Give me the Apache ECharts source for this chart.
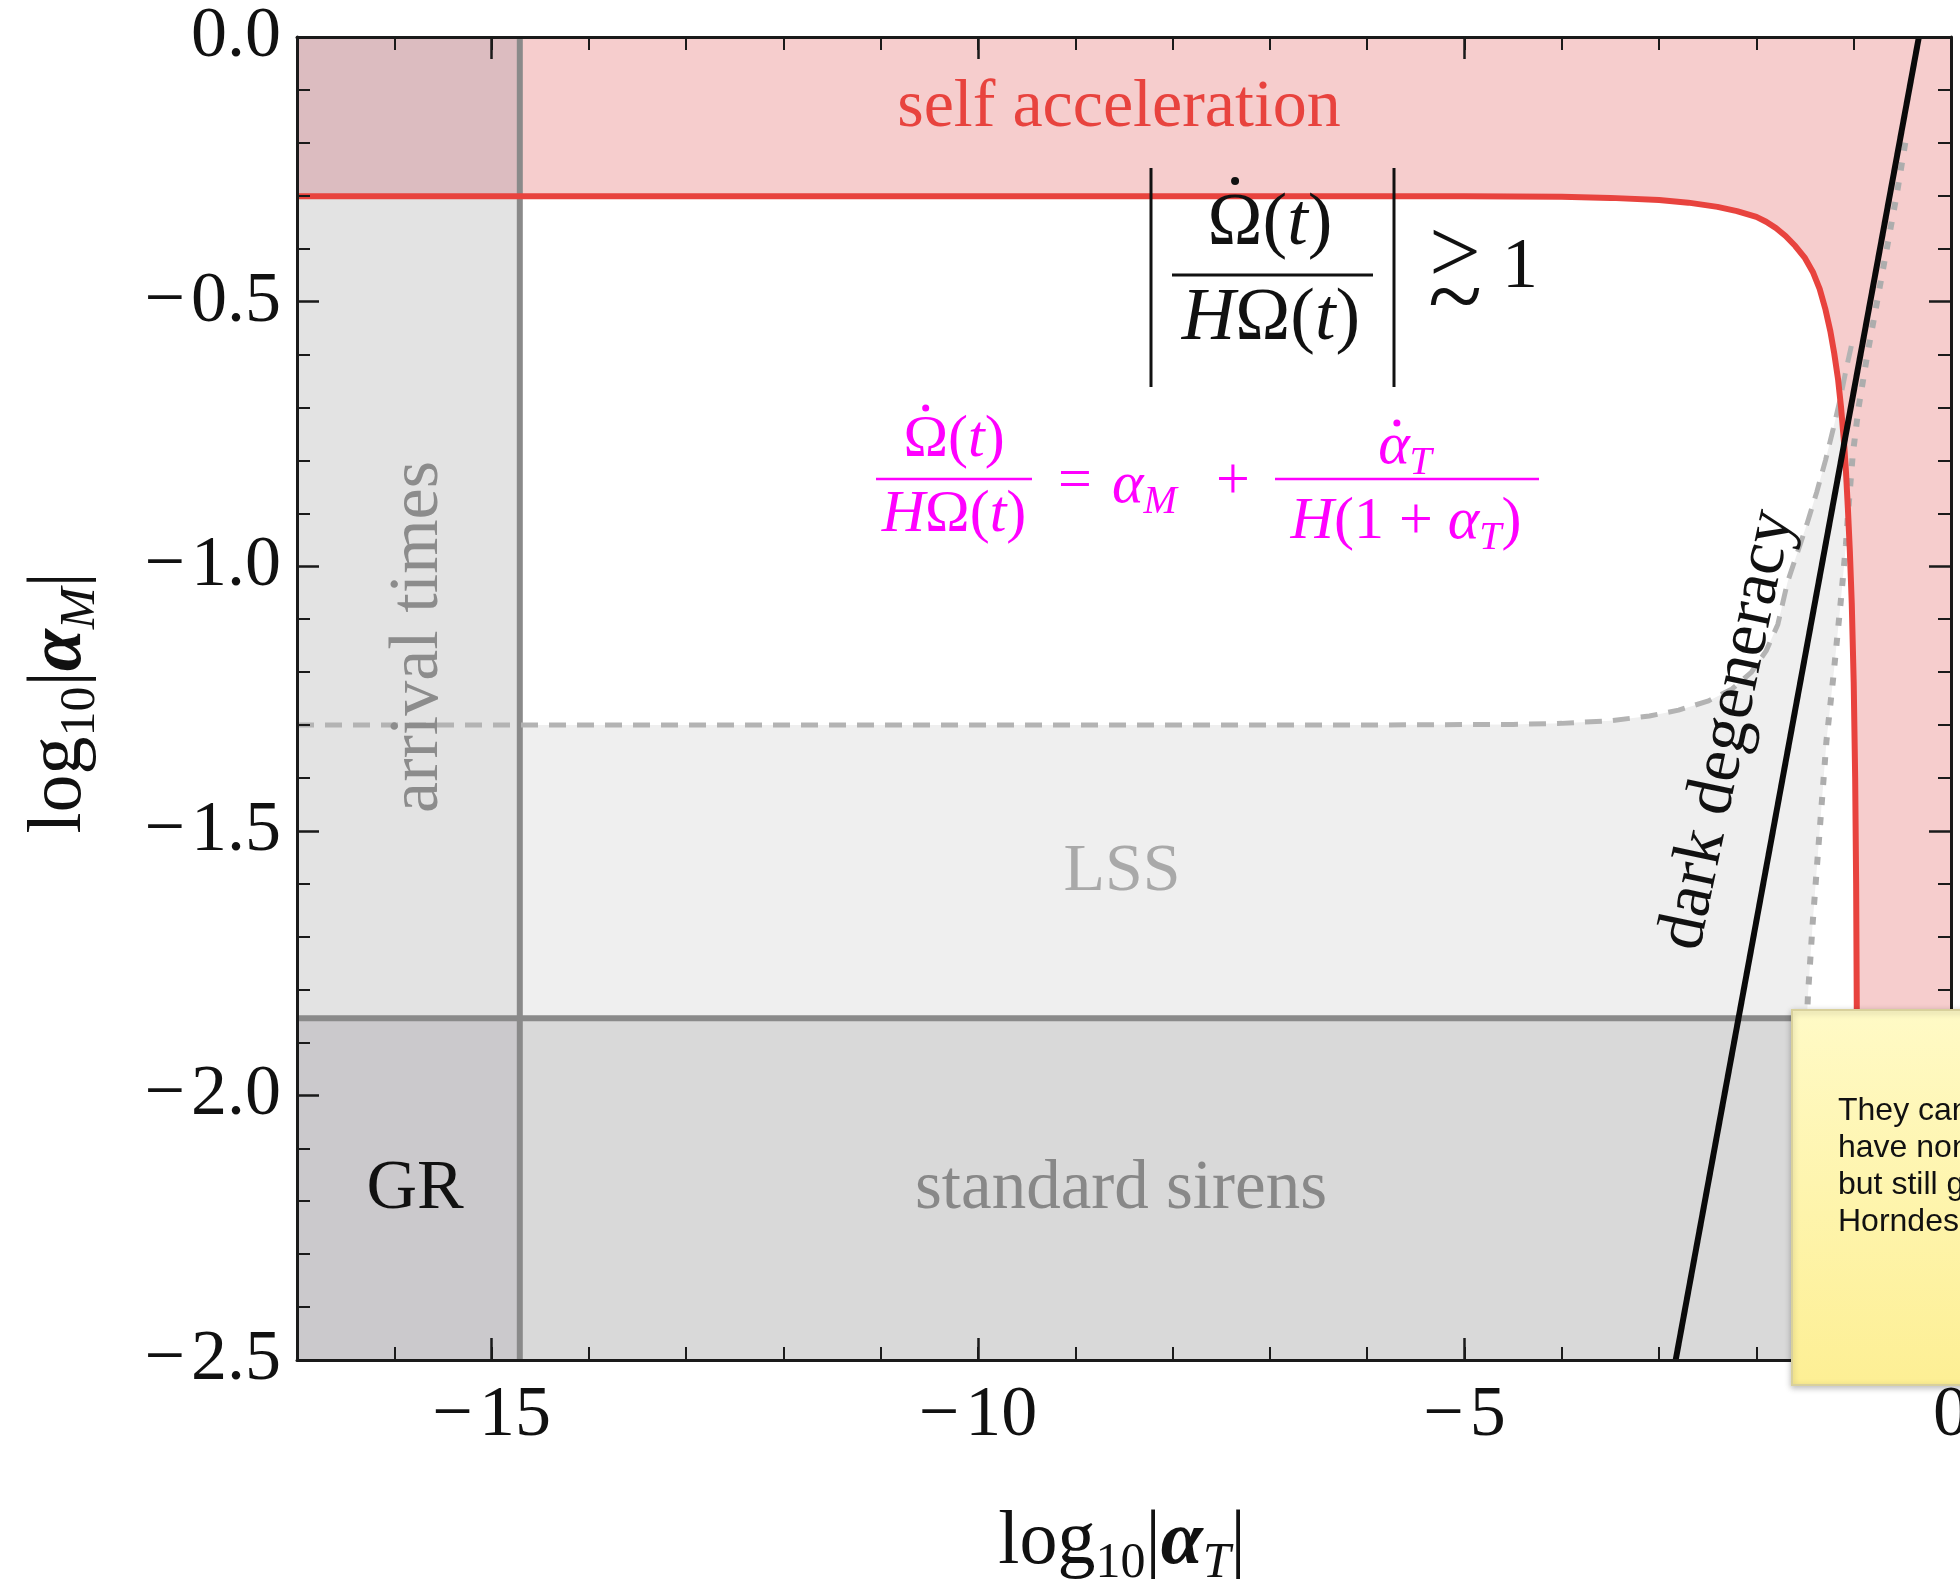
<!DOCTYPE html>
<html><head><meta charset="utf-8">
<script src="https://cdn.jsdelivr.net/npm/echarts@6/dist/echarts.min.js"></script>
<style>html,body{margin:0;padding:0;background:#fff;overflow:hidden}#c{width:1960px;height:1582px}</style>
</head><body><div id="c"></div>
<script>
// ---------------- data ----------------
const xRange = [-17, 0];
const yRange = [-2.5, 0];
const xLabelTicks = [-15, -10, -5, 0];
const yLabelTicks = [-2.5, -2, -1.5, -1, -0.5, 0];
const arrivalTimesBound = -14.71;     // log10|alpha_T|
const standardSirensBound = -1.854;   // log10|alpha_M|
const selfAccelLevel = -0.301;
const selfAccelBoundary = [
  [-17,-0.301],[-8,-0.301],[-5,-0.301],[-4,-0.302],[-3.5,-0.304],[-3.0,-0.308],
  [-2.7,-0.313],[-2.4,-0.321],[-2.2,-0.329],[-2.0,-0.340],[-1.9,-0.349],[-1.8,-0.361],
  [-1.7,-0.376],[-1.6,-0.395],[-1.5,-0.418],[-1.42,-0.444],[-1.35,-0.476],[-1.29,-0.515],
  [-1.24,-0.556],[-1.2,-0.598],[-1.16,-0.648],[-1.13,-0.70],[-1.1,-0.765],[-1.08,-0.82],
  [-1.06,-0.89],[-1.04,-0.97],[-1.02,-1.07],[-1.0,-1.22],[-0.985,-1.4],[-0.975,-1.6],
  [-0.968,-1.85],[-0.963,-2.2],[-0.96,-2.5]
];
const lssDashed = [
  [-17,-1.30],[-10,-1.30],[-6,-1.30],[-4.5,-1.299],[-4.0,-1.297],[-3.5,-1.292],[-3.1,-1.283],
  [-2.8,-1.272],[-2.5,-1.255],[-2.25,-1.232],[-2.05,-1.20],[-1.9,-1.16],[-1.78,-1.11],
  [-1.68,-1.03],[-1.58,-0.975],[-1.48,-0.92],[-1.38,-0.86],[-1.29,-0.80],[-1.21,-0.74],
  [-1.14,-0.685],[-1.08,-0.63],[-1.02,-0.58]
];
const lssDotted = [
  [-0.47,-0.2],[-0.56,-0.3],[-0.66,-0.4],[-0.76,-0.5],[-0.86,-0.6],[-0.95,-0.7],[-1.01,-0.79],
  [-1.05,-0.88],[-1.08,-0.96],[-1.14,-1.08],[-1.21,-1.21],[-1.28,-1.33],[-1.35,-1.5],
  [-1.42,-1.67],[-1.47,-1.81],[-1.48,-1.854]
];
const darkDegeneracy = [[-2.83,-2.5],[-0.33,0]];

// ---------------- regions built from the data ----------------
const lssRegion = [[xRange[0], standardSirensBound]].concat(lssDashed, lssDotted, [[xRange[0], standardSirensBound]]);
const sirensRegion = [[xRange[0],yRange[0]],[xRange[1],yRange[0]],[xRange[1],standardSirensBound],[xRange[0],standardSirensBound]];
const arrivalRegion = [[xRange[0],yRange[0]],[arrivalTimesBound,yRange[0]],[arrivalTimesBound,yRange[1]],[xRange[0],yRange[1]]];
const grRegion = [[xRange[0],yRange[0]],[arrivalTimesBound,yRange[0]],[arrivalTimesBound,standardSirensBound],[xRange[0],standardSirensBound]];
const selfAccelRegion = [[xRange[0],yRange[1]]].concat(selfAccelBoundary, [[xRange[1],yRange[0]],[xRange[1],yRange[1]]]);
const cornerRegion = [[xRange[0],selfAccelLevel],[arrivalTimesBound,selfAccelLevel],[arrivalTimesBound,yRange[1]],[xRange[0],yRange[1]]];

function polySeries(points, color, z) {
  return {
    type: 'custom', coordinateSystem: 'cartesian2d', xAxisIndex: 0, yAxisIndex: 0,
    clip: true, silent: true, z: z, data: [points[0]],
    renderItem: function (params, api) {
      return { type: 'polygon', shape: { points: points.map(p => api.coord(p)) }, style: { fill: color } };
    }
  };
}
function lineSeries(points, style, z) {
  return {
    type: 'line', data: points, xAxisIndex: 0, yAxisIndex: 0, showSymbol: false, symbol: 'none',
    silent: true, z: z, clip: true, lineStyle: style
  };
}

const SERIF = 'Liberation Serif';
const fmtX = v => v === 0 ? '0' : '\u2212\u200A' + Math.abs(v);
const fmtY = v => v === 0 ? '0.0' : '\u2212\u200A' + Math.abs(v).toFixed(1);

function xAxisDef(pos, major, labels) {
  const a = {
    type: 'value', position: pos, min: xRange[0], max: xRange[1], interval: 1, z: 20,
    splitLine: { show: false },
    axisLine: { show: !major, onZero: false, lineStyle: { color: '#1a1a1a', width: 3 } },
    axisTick: major
      ? { show: true, inside: true, length: 22, customValues: xLabelTicks, lineStyle: { color: '#1a1a1a', width: 2.5 } }
      : { show: true, inside: true, length: 13, lineStyle: { color: '#1a1a1a', width: 2 } },
    axisLabel: { show: false }
  };
  if (labels) {
    a.axisLabel = { show: true, customValues: xLabelTicks, formatter: fmtX, margin: 20,
      fontFamily: SERIF, fontSize: 72, color: '#111' };
  }
  return a;
}
function yAxisDef(pos, labels) {
  return {
    type: 'value', position: pos, min: yRange[0], max: yRange[1], interval: 0.5, z: 20,
    splitLine: { show: false },
    axisLine: { show: true, onZero: false, lineStyle: { color: '#1a1a1a', width: 3 } },
    axisTick: { show: true, inside: true, length: 22, lineStyle: { color: '#1a1a1a', width: 2.5 } },
    minorTick: { show: true, splitNumber: 5, length: 13, lineStyle: { color: '#1a1a1a', width: 2 } },
    axisLabel: labels ? { show: true, formatter: fmtY, margin: 16, fontFamily: SERIF, fontSize: 72, color: '#111' } : { show: false }
  };
}

// ---------------- text helpers ----------------
const mctx = document.createElement('canvas').getContext('2d');
function mw(str, size, italic, bold) {
  mctx.font = (italic ? 'italic ' : '') + (bold ? 'bold ' : '') + size + 'px "' + SERIF + '"';
  return mctx.measureText(str).width;
}
function tok(size, extra) {
  return Object.assign({ fontFamily: SERIF, fontSize: size, lineHeight: Math.round(size * 1.2), verticalAlign: 'middle' }, extra || {});
}
function mathRich(size, color) {
  const sub = Math.round(size * 0.66);
  return {
    u: tok(size, { fill: color }),
    i: tok(size, { fill: color, fontStyle: 'italic' }),
    b: tok(size, { fill: color, fontStyle: 'italic', fontWeight: 'bold' }),
    s: { fontFamily: SERIF, fontSize: sub, fontStyle: 'italic', lineHeight: sub, verticalAlign: 'bottom', fill: color },
    n: { fontFamily: SERIF, fontSize: sub, lineHeight: sub, verticalAlign: 'bottom', fill: color }
  };
}
function txt(x, y, text, opt) {
  opt = opt || {};
  return {
    type: 'text', x: x, y: y, z: 50, silent: true, rotation: opt.rotation || 0,
    style: Object.assign({ text: text, align: opt.align || 'center', verticalAlign: 'middle',
      fontFamily: SERIF, fontSize: opt.size || 70, fill: opt.color || '#111' }, opt.style || {})
  };
}
function hline(x1, x2, y, color, w) {
  return { type: 'line', z: 50, silent: true, shape: { x1: x1, y1: y, x2: x2, y2: y }, style: { stroke: color, lineWidth: w } };
}
function vline(x, y1, y2, color, w) {
  return { type: 'line', z: 50, silent: true, shape: { x1: x, y1: y1, x2: x, y2: y2 }, style: { stroke: color, lineWidth: w } };
}
function dot(x, y, r, color) {
  return { type: 'circle', z: 51, silent: true, shape: { cx: x, cy: y, r: r }, style: { fill: color } };
}

const BLK = '#111';
const MAG = '#ff00ff';
const F1 = 74, F2 = 60, FT = 76;
const r1 = mathRich(F1, BLK);
const r2 = mathRich(F2, MAG);
const rt = mathRich(FT, BLK);

// dot positions over Omega / alpha computed from measured glyph widths
const n1W = mw('\u03A9(', F1) + mw('t', F1, true) + mw(')', F1);
const n1DotX = 1270 - n1W / 2 + mw('\u03A9', F1) / 2;
const n2W = mw('\u03A9(', F2) + mw('t', F2, true) + mw(')', F2);
const n2DotX = 954 - n2W / 2 + mw('\u03A9', F2) / 2;
const a2W = mw('\u03B1', F2, true) + mw('T', Math.round(F2 * 0.66), true);
const a2DotX = 1405 - a2W / 2 + mw('\u03B1', F2, true) / 2 + 3;

const graphics = [
  // region labels
  txt(1119, 108, 'self acceleration', { size: 68, color: '#e8433e' }),
  txt(419, 637, 'arrival times', { size: 70, color: '#8c8c8c', rotation: Math.PI / 2 }),
  txt(1122, 872, 'LSS', { size: 68, color: '#a9a9a9' }),
  txt(415, 1190, 'GR', { size: 70, color: '#111' }),
  txt(1121, 1190, 'standard sirens', { size: 69, color: '#888' }),
  txt(1728, 730, 'dark degeneracy', { size: 68, color: '#111', rotation: 78 * Math.PI / 180 }),
  // |Omega-dot / H Omega| >~ 1
  txt(1270, 225, '{u|\u03A9(}{i|t}{u|)}', { style: { rich: r1 } }),
  dot(n1DotX, 181, 4, BLK),
  hline(1172, 1373, 275, BLK, 3),
  txt(1271, 320, '{i|H}{u|\u03A9(}{i|t}{u|)}', { style: { rich: r1 } }),
  vline(1151, 168, 387, BLK, 3),
  vline(1394, 168, 387, BLK, 3),
  txt(1455, 258, '>', { size: 92 }),
  txt(1455, 303, '~', { size: 100 }),
  txt(1520, 268, '1', { size: 72 }),
  // magenta relation
  txt(954, 440, '{u|\u03A9(}{i|t}{u|)}', { style: { rich: r2 } }),
  dot(n2DotX, 408, 3.5, MAG),
  hline(876, 1032, 479, MAG, 2.5),
  txt(954, 515, '{i|H}{u|\u03A9(}{i|t}{u|)}', { style: { rich: r2 } }),
  txt(1075, 482, '=', { size: 60, color: MAG }),
  txt(1112, 486, '{i|\u03B1}{s|M}', { align: 'left', style: { rich: r2 } }),
  txt(1233, 482, '+', { size: 60, color: MAG }),
  txt(1405, 447, '{i|\u03B1}{s|T}', { style: { rich: r2 } }),
  dot(a2DotX, 423, 3.5, MAG),
  hline(1275, 1539, 479, MAG, 2.5),
  txt(1406, 522, '{i|H}{u|(1 + }{i|\u03B1}{s|T}{u|)}', { style: { rich: r2 } }),
  // axis titles
  txt(1122, 1543, '{u|log}{n|10}{u||}{b|\u03B1}{s|T}{u||}', { style: { rich: rt } }),
  txt(60, 703, '{u|log}{n|10}{u||}{b|\u03B1}{s|M}{u||}', { rotation: Math.PI / 2, style: { rich: rt } }),
  // sticky note
  { type: 'rect', z: 100, silent: true, shape: { x: 1792, y: 1010, width: 220, height: 375 },
    style: { fill: new echarts.graphic.LinearGradient(0, 0, 0, 1, [{ offset: 0, color: '#fffac6' }, { offset: 1, color: '#fdef94' }]),
      stroke: '#d8d09c', lineWidth: 2, shadowBlur: 6, shadowColor: 'rgba(0,0,0,0.25)', shadowOffsetY: 2 } },
  { type: 'text', z: 101, silent: true, x: 1838, y: 1093,
    style: { text: 'They can\nhave non\nbut still g\nHorndeski', fontFamily: 'Liberation Sans', fontSize: 32, lineHeight: 37,
      fill: '#111', align: 'left', verticalAlign: 'top' } }
];

const chart = echarts.init(document.getElementById('c'), null, { renderer: 'canvas' });
chart.setOption({
  animation: false,
  backgroundColor: '#ffffff',
  grid: { left: 297, top: 37, width: 1654, height: 1323, containLabel: false, outerBoundsMode: 'none' },
  xAxis: [xAxisDef('bottom', false, true), xAxisDef('bottom', true, false), xAxisDef('top', false, false), xAxisDef('top', true, false)],
  yAxis: [yAxisDef('left', true), yAxisDef('right', false)],
  series: [
    polySeries(lssRegion, '#efefef', 1),
    polySeries(sirensRegion, '#d9d9d9', 2),
    polySeries(arrivalRegion, '#e3e3e3', 3),
    polySeries(grRegion, '#cbc9cc', 4),
    polySeries(selfAccelRegion, '#f6cdcd', 5),
    polySeries(cornerRegion, '#dcbcc0', 6),
    lineSeries([[arrivalTimesBound, yRange[0]], [arrivalTimesBound, yRange[1]]], { color: '#8a8a8a', width: 6 }, 10),
    lineSeries([[xRange[0], standardSirensBound], [xRange[1], standardSirensBound]], { color: '#8a8a8a', width: 6 }, 10),
    lineSeries(lssDashed, { color: '#b3b3b3', width: 5, type: [17, 11] }, 11),
    lineSeries(lssDotted, { color: '#adadad', width: 6, type: [8, 12] }, 11),
    lineSeries(selfAccelBoundary, { color: '#e8433e', width: 6 }, 12),
    lineSeries(darkDegeneracy, { color: '#0a0a0a', width: 6 }, 13)
  ],
  graphic: graphics
});
</script></body></html>
